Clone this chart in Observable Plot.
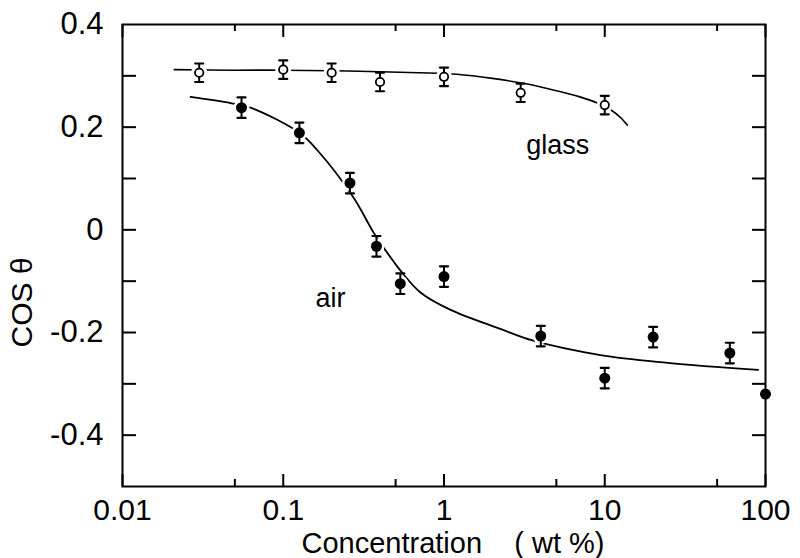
<!DOCTYPE html>
<html><head><meta charset="utf-8">
<script src="https://cdn.jsdelivr.net/npm/d3@7"></script>
<script src="https://cdn.jsdelivr.net/npm/@observablehq/plot@0.6"></script>
<style>body{margin:0;background:#fff} #chart svg{display:block}</style>
</head><body><div id="chart"></div>
<script>
// measured points (open circles: glass, filled: air)
const glassConc = [0.03, 0.1, 0.2, 0.4, 1, 3, 10];
const glassCos  = [0.306, 0.312, 0.306, 0.288, 0.298, 0.267, 0.243];
const glassErr  = [0.018, 0.018, 0.018, 0.018, 0.018, 0.018, 0.018];
const airConc = [0.055, 0.126, 0.26, 0.38, 0.535, 1, 4, 10, 20, 60, 100];
const airCos  = [0.238, 0.189, 0.091, -0.032, -0.105, -0.091, -0.207, -0.289, -0.209, -0.24, -0.32];
const airErr  = [0.02, 0.02, 0.02, 0.02, 0.02, 0.02, 0.02, 0.02, 0.02, 0.02, 0];
// fitted curves
const glassFitConc = [0.021, 0.05, 0.1, 0.2, 0.4, 0.7, 1.2, 2, 3.3, 5, 7, 9, 11, 12.5, 13.8];
const glassFitCos  = [0.312, 0.311, 0.311, 0.310, 0.308, 0.306, 0.303, 0.295, 0.284, 0.271, 0.259, 0.247, 0.233, 0.219, 0.204];
const airFitConc = [0.0265, 0.047, 0.0625, 0.126, 0.163, 0.2735, 0.364, 0.42, 0.535, 0.714, 1.1, 2.24, 3.6, 9.4, 24.6, 90];
const airFitCos  = [0.259, 0.247, 0.238, 0.189, 0.155, 0.063, -0.005, -0.034, -0.079, -0.122, -0.156, -0.193, -0.216, -0.244, -0.259, -0.273];
// axes
const xDomain = [0.01, 100];
const yDomain = [-0.5, 0.4];
const xTicks = [0.01, 0.1, 1, 10, 100];
const xMinor = [0.05, 0.5, 5, 50];
const yTicks = [-0.4, -0.2, 0, 0.2, 0.4];
const yTickMarks = [-0.4, -0.3, -0.2, -0.1, 0, 0.1, 0.2, 0.3];
const xLabel = "Concentration\u00a0\u00a0\u00a0\u00a0( wt %)";
const yLabel = "COS θ";

const glass = glassConc.map((c, i) => ({c, v: glassCos[i], e: glassErr[i]}));
const air = airConc.map((c, i) => ({c, v: airCos[i], e: airErr[i]}));
const glassFit = glassFitConc.map((c, i) => ({c, v: glassFitCos[i]}));
const airFit = airFitConc.map((c, i) => ({c, v: airFitCos[i]}));
const allPts = glass.concat(air);
const caps = allPts.filter(d => d.e > 0).flatMap(d => [{c: d.c, v: d.v + d.e}, {c: d.c, v: d.v - d.e}]);
const capShape = {draw(ctx, l) { ctx.moveTo(-l / 2, 0); ctx.lineTo(l / 2, 0); }};
const yfmt = d => d === 0 ? "0" : (d < 0 ? "-" : "") + Math.abs(d).toFixed(1);
const font = "'Liberation Sans', Arial, sans-serif";

const W = 800, H = 558, mL = 122, mR = 35, mT = 24, mB = 72;
const fw = W - mL - mR, fh = H - mT - mB; // frame size in px
// convert an inward tick length in px to data units at each frame edge
const decades = Math.log10(xDomain[1] / xDomain[0]);
const xIn = (x0, px, dir) => x0 * Math.pow(10, dir * px / fw * decades);
const yIn = (y0, px, dir) => y0 + dir * px / fh * (yDomain[1] - yDomain[0]);
const yT = yTickMarks.map(v => ({v}));
const xT = xTicks.map(c => ({c}));
const xM = xMinor.map(c => ({c}));
const tk = {stroke: "#000", strokeWidth: 2};

const chart = Plot.plot({
  width: W, height: H,
  marginLeft: mL, marginRight: mR, marginTop: mT, marginBottom: mB,
  style: {fontFamily: font, background: "#fff", color: "#000"},
  x: {type: "log", domain: xDomain},
  y: {domain: yDomain},
  marks: [
    Plot.line(glassFit, {x: "c", y: "v", stroke: "#000", strokeWidth: 1.6, curve: "catmull-rom"}),
    Plot.line(airFit, {x: "c", y: "v", stroke: "#000", strokeWidth: 1.8, curve: "catmull-rom"}),
    Plot.dot(allPts, {x: "c", y: "v", r: 8, fill: "#fff", stroke: null}),
    Plot.frame({stroke: "#000", strokeWidth: 2}),
    // inward ticks on all four sides
    Plot.ruleY(yT, {y: "v", x1: xDomain[0], x2: xIn(xDomain[0], 14, 1), ...tk}),
    Plot.ruleY(yT, {y: "v", x1: xIn(xDomain[1], 13, -1), x2: xDomain[1], ...tk}),
    Plot.ruleX(xT, {x: "c", y1: yDomain[0], y2: yIn(yDomain[0], 12, 1), ...tk}),
    Plot.ruleX(xM, {x: "c", y1: yDomain[0], y2: yIn(yDomain[0], 7, 1), ...tk}),
    Plot.ruleX(xT, {x: "c", y1: yIn(yDomain[1], 13, -1), y2: yDomain[1], ...tk}),
    Plot.ruleX(xM, {x: "c", y1: yIn(yDomain[1], 7, -1), y2: yDomain[1], ...tk}),
    Plot.axisY(yTicks, {anchor: "left", tickSize: 0, tickPadding: 19, tickFormat: yfmt, fontSize: 31, label: null}),
    Plot.axisX(xTicks, {anchor: "bottom", tickSize: 0, tickPadding: 12, tickFormat: d => String(d), fontSize: 30, label: null}),
    Plot.ruleX(allPts.filter(d => d.e > 0), {x: "c", y1: d => d.v - d.e, y2: d => d.v + d.e, stroke: "#000", strokeWidth: 2}),
    Plot.vector(caps, {x: "c", y: "v", length: 8, rotate: 0, anchor: "start", shape: capShape, stroke: "#000", strokeWidth: 2.2}),
    Plot.dot(glass, {x: "c", y: "v", r: 4.2, fill: "#fff", stroke: "#000", strokeWidth: 1.8}),
    Plot.dot(air, {x: "c", y: "v", r: 5.5, fill: "#000", stroke: null}),
    Plot.text(["glass"], {x: 5.1, y: 0.164, text: d => d, fontSize: 27, letterSpacing: 1.5, textAnchor: "middle"}),
    Plot.text(["air"], {x: 0.197, y: -0.133, text: d => d, fontSize: 27, letterSpacing: 2, textAnchor: "middle"}),
    Plot.text([yLabel], {x: 0.01, dx: -100, y: -0.229, text: d => d, rotate: -90, fontSize: 30, letterSpacing: 3, textAnchor: "start"}),
    Plot.text([xLabel], {frameAnchor: "bottom", dx: 9, dy: 66, lineAnchor: "bottom", text: d => d, fontSize: 29, letterSpacing: 1.5, textAnchor: "middle"})
  ]
});
document.getElementById("chart").append(chart);
</script>
</body></html>
